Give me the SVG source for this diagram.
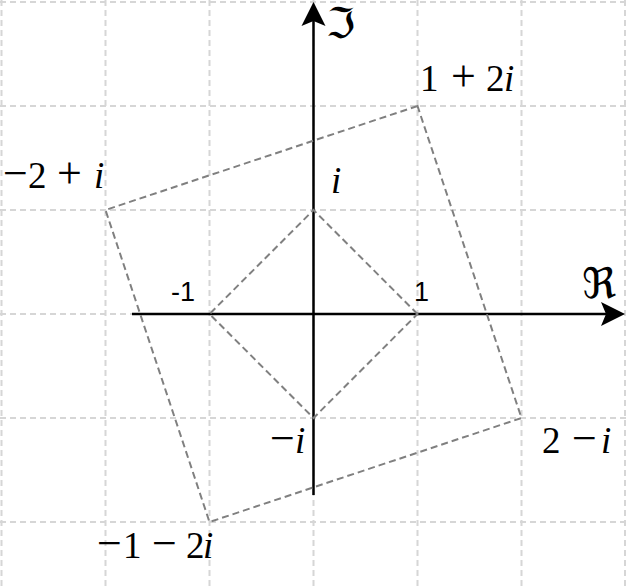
<svg xmlns="http://www.w3.org/2000/svg" width="626" height="586" viewBox="0 0 626 586">
<style>
.grid{stroke:#d6d6d6;stroke-width:2;stroke-dasharray:6 4;fill:none}
.axis{stroke:#000;stroke-width:2.5;fill:none}
.sq{stroke:#808080;stroke-width:2;stroke-dasharray:7 4;fill:none}
.m{font-family:"Liberation Serif","Times New Roman",serif;font-size:37px;fill:#000}
.op{font-size:44px}
.it{font-style:italic}
.s{font-family:"Liberation Sans",Arial,sans-serif;font-size:27px;fill:#000}
.fr{font-family:"DejaVu Serif","DejaVu Sans",serif;font-size:42px;fill:#000}
</style>
<rect width="626" height="586" fill="#fff"/>
<g id="connectors">
<g id="grid">
<line class="grid" x1="1.5" y1="0" x2="1.5" y2="586"/>
<line class="grid" x1="105.5" y1="0" x2="105.5" y2="586"/>
<line class="grid" x1="209.5" y1="0" x2="209.5" y2="586"/>
<line class="grid" x1="313.5" y1="0" x2="313.5" y2="586"/>
<line class="grid" x1="417.5" y1="0" x2="417.5" y2="586"/>
<line class="grid" x1="521.5" y1="0" x2="521.5" y2="586"/>
<line class="grid" x1="625" y1="0" x2="625" y2="586"/>
<line class="grid" x1="0" y1="2" x2="626" y2="2"/>
<line class="grid" x1="0" y1="106" x2="626" y2="106"/>
<line class="grid" x1="0" y1="210" x2="626" y2="210"/>
<line class="grid" x1="0" y1="314" x2="626" y2="314"/>
<line class="grid" x1="0" y1="418" x2="626" y2="418"/>
<line class="grid" x1="0" y1="522" x2="626" y2="522"/>
</g>
<g id="axes">
<line class="axis" x1="132" y1="314" x2="610" y2="314"/>
<line class="axis" x1="313.5" y1="495" x2="313.5" y2="16"/>
<path d="M625,314 L601,302 L606,314 L601,326 Z" fill="#000"/>
<path d="M313.5,2 L325.5,26 L313.5,21 L301.5,26 Z" fill="#000"/>
</g>
<g id="squares">
<polygon class="sq" points="417.5,314 313.5,210 209.5,314 313.5,418"/>
<polygon class="sq" points="417.5,106 105.5,210 209.5,522 521.5,418"/>
</g>
</g>
<g id="label-re"><text class="fr" x="582" y="298">ℜ</text></g>
<g id="label-im"><text class="fr" x="326" y="38">ℑ</text></g>
<g id="label-minus1"><text class="s" x="171" y="301">-1</text></g>
<g id="label-1"><text class="s" x="414" y="301">1</text></g>
<g id="label-1p2i"><text class="m" y="91"><tspan x="420">1</tspan><tspan class="op" x="451">+</tspan><tspan x="486">2</tspan><tspan class="it" x="504">i</tspan></text></g>
<g id="label-m2pi"><text class="m" y="188"><tspan class="op" x="3">−</tspan><tspan x="28">2</tspan><tspan class="op" x="57">+</tspan><tspan class="it" x="94">i</tspan></text></g>
<g id="label-i"><text class="m it" x="331" y="193">i</text></g>
<g id="label-2mi"><text class="m" y="453"><tspan x="542">2</tspan><tspan class="op" x="572">−</tspan><tspan class="it" x="601">i</tspan></text></g>
<g id="label-mi"><text class="m" y="453"><tspan class="op" x="270">−</tspan><tspan class="it" x="295">i</tspan></text></g>
<g id="label-m1m2i"><text class="m" y="558"><tspan class="op" x="97">−</tspan><tspan x="123">1</tspan><tspan class="op" x="152">−</tspan><tspan x="186">2</tspan><tspan class="it" x="203">i</tspan></text></g>
</svg>
